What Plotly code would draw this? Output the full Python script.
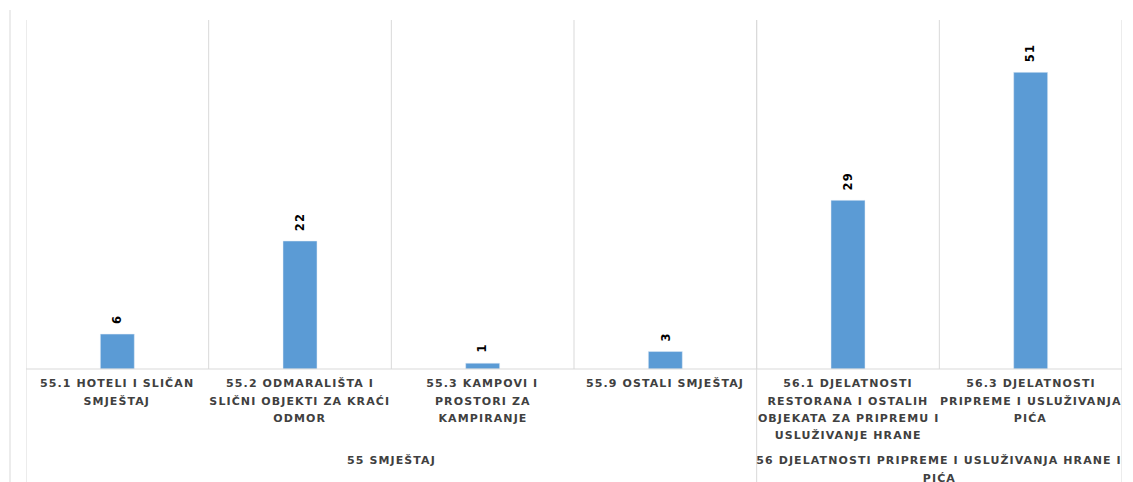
import plotly.graph_objects as go

categories = [
    "55.1 HOTELI I SLIČAN<br>SMJEŠTAJ",
    "55.2 ODMARALIŠTA I<br>SLIČNI OBJEKTI ZA KRAĆI<br>ODMOR",
    "55.3 KAMPOVI I<br>PROSTORI ZA<br>KAMPIRANJE",
    "55.9 OSTALI SMJEŠTAJ",
    "56.1 DJELATNOSTI<br>RESTORANA I OSTALIH<br>OBJEKATA ZA PRIPREMU I<br>USLUŽIVANJE HRANE",
    "56.3 DJELATNOSTI<br>PRIPREME I USLUŽIVANJA<br>PIĆA",
]
values = [6, 22, 1, 3, 29, 51]
groups = ["55 SMJEŠTAJ", "56 DJELATNOSTI PRIPREME I USLUŽIVANJA HRANE I<br>PIĆA"]
group_members = [[0, 1, 2, 3], [4, 5]]

# figure sized to fit the page (body has 8px margin)
W, H = 1125, 474
ml, mr, mt, mb = 18, 11, 12, 113
plot_w = W - ml - mr
plot_h = H - mt - mb
grid = "#d9d9d9"
txt = "#404040"
font_fam = "DejaVu Sans"
fs = 11
line_gap = 17

x = list(range(len(values)))
fig = go.Figure(go.Bar(
    x=x, y=values, width=0.186, marker_color="#5B9BD5",
))

shapes = []
n = len(values)
for i in range(1, n):
    shapes.append(dict(type="line", xref="x", yref="paper", x0=i - 0.5, x1=i - 0.5,
                       y0=0, y1=1, line=dict(color=grid, width=1)))
bottom = -(mb + 5) / plot_h
bounds = [-0.5] + [m[-1] + 0.5 for m in group_members]
for b in bounds:
    shapes.append(dict(type="line", xref="x", yref="paper", x0=b, x1=b,
                       y0=bottom, y1=1, line=dict(color=grid, width=1)))
shapes.append(dict(type="line", xref="x", yref="paper", x0=-0.5, x1=n - 0.5,
                   y0=0, y1=0, line=dict(color=grid, width=1)))
bx = (2 - ml) / plot_w
shapes.append(dict(type="line", xref="paper", yref="paper", x0=bx, x1=bx,
                   y0=bottom, y1=1 + 10 / plot_h, line=dict(color=grid, width=1)))

annotations = []

# value labels, rotated, above each bar
for xi, v in zip(x, values):
    annotations.append(dict(x=xi, y=v, xref="x", yref="y", text=f"<b>{v}</b>",
                            showarrow=False, textangle=-90, yanchor="bottom",
                            xanchor="center", yshift=9,
                            font=dict(family=font_fam, size=11.5, color="#000000")))


def add_lines(text, xc, first_center):
    for k, line in enumerate(text.split("<br>")):
        yc = first_center + k * line_gap
        annotations.append(dict(x=xc, y=-yc / plot_h, xref="x", yref="paper",
                                text=f"<b>{line}</b>", showarrow=False,
                                yanchor="middle", xanchor="center",
                                font=dict(family=font_fam, size=fs, color=txt)))


for i, c in enumerate(categories):
    add_lines(c, i, 15)
for g, m in zip(groups, group_members):
    add_lines(g, (m[0] + m[-1]) / 2, 92)

fig.update_layout(
    width=W, height=H,
    margin=dict(l=ml, r=mr, t=mt, b=mb),
    plot_bgcolor="white", paper_bgcolor="white",
    showlegend=False,
    xaxis=dict(range=[-0.5, n - 0.5], showticklabels=False, showgrid=False,
               zeroline=False, showline=False, fixedrange=True),
    yaxis=dict(range=[0, 60], visible=False, showgrid=False, zeroline=False),
    shapes=shapes, annotations=annotations,
    font=dict(family=font_fam, color=txt),
)

post = """
var gd = document.getElementById('{plot_id}');
gd.querySelectorAll('.annotation-text').forEach(function(t){
  t.style.letterSpacing = '1.1px';
});
"""
fig.write_html("out.html", post_script=post)
